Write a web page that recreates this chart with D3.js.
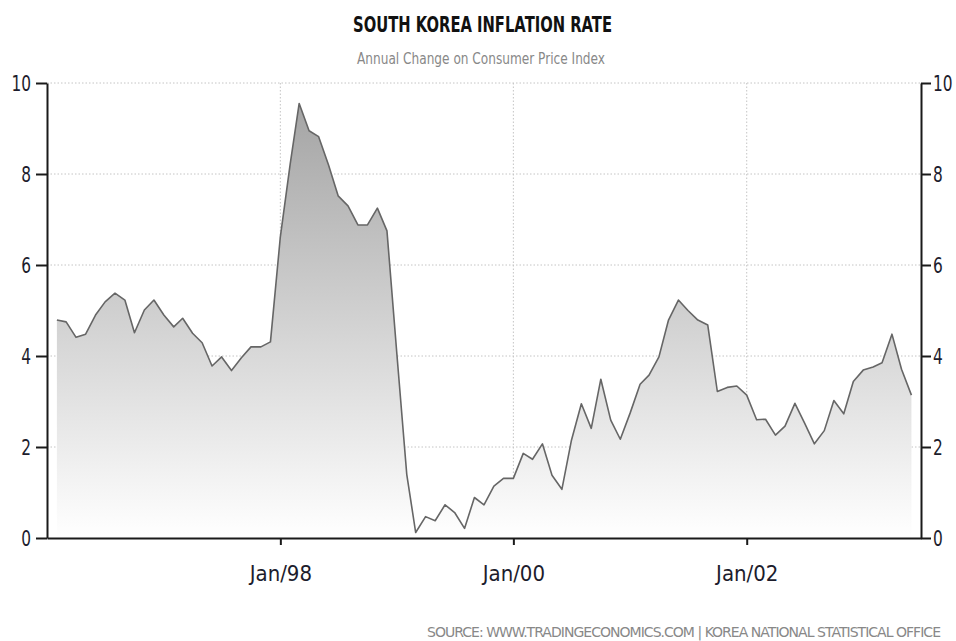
<!DOCTYPE html>
<html lang="en">
<head>
<meta charset="UTF-8">
<title>South Korea Inflation Rate</title>
<style>
  body { margin: 0; background: #fff; }
  .lbl { font-family: "DejaVu Sans", sans-serif; }
</style>
</head>
<body>
<svg id="chart" width="956" height="641"></svg>
<script src="https://d3js.org/d3.v7.min.js"></script>
<script>
// monthly CPI change, Jan 1996 .. May 2003
var firstMonth = new Date(1996, 0, 1)
var cpi1996 = [4.79, 4.75, 4.41, 4.48, 4.90, 5.19, 5.38, 5.23, 4.51, 5.01, 5.23, 4.90]
var cpi1997 = [4.64, 4.83, 4.50, 4.29, 3.78, 3.98, 3.68, 3.96, 4.20, 4.20, 4.31, 6.62]
var cpi1998 = [8.23, 9.55, 8.95, 8.82, 8.20, 7.52, 7.30, 6.88, 6.88, 7.25, 6.75, 4.05]
var cpi1999 = [1.40, 0.12, 0.47, 0.38, 0.73, 0.56, 0.21, 0.89, 0.73, 1.14, 1.31, 1.31]
var cpi2000 = [1.86, 1.73, 2.07, 1.38, 1.07, 2.15, 2.95, 2.41, 3.49, 2.59, 2.17, 2.75]
var cpi2001 = [3.38, 3.58, 3.98, 4.79, 5.23, 5.00, 4.79, 4.68, 3.22, 3.31, 3.34, 3.14]
var cpi2002 = [2.60, 2.61, 2.26, 2.46, 2.96, 2.53, 2.07, 2.36, 3.02, 2.73, 3.44, 3.69]
var cpi2003 = [3.76, 3.85, 4.48, 3.71, 3.14]

var yTicks = [0, 2, 4, 6, 8, 10]
var xTicks = ["1998-01", "2000-01", "2002-01"]

var values = [].concat(cpi1996, cpi1997, cpi1998, cpi1999, cpi2000, cpi2001, cpi2002, cpi2003)
// tradingeconomics plots each month at its end
var data = values.map(function(v, i) {
    return { date: d3.timeMonth.offset(firstMonth, i + 1), value: v }
})

var svg = d3.select("#chart")

var x = d3.scaleTime()
    .domain([new Date(1996, 0, 1), new Date(2003, 6, 1)])
    .range([47, 921])
var y = d3.scaleLinear()
    .domain([0, 10])
    .range([538, 83])

var tickDates = xTicks.map(d3.timeParse("%Y-%m"))

// gradient for the area
var grad = svg.append("defs").append("linearGradient")
    .attr("id", "fade")
    .attr("gradientUnits", "userSpaceOnUse")
    .attr("x1", 0).attr("x2", 0)
    .attr("y1", y(10)).attr("y2", y(0))
grad.append("stop").attr("offset", "0%").attr("stop-color", "#a0a0a0")
grad.append("stop").attr("offset", "100%").attr("stop-color", "#ffffff")

// dotted grid
svg.append("g").selectAll("line.h")
    .data(yTicks.filter(function(d) { return d > 0 }))
    .enter().append("line")
    .attr("x1", 47).attr("x2", 921)
    .attr("y1", function(d) { return y(d) })
    .attr("y2", function(d) { return y(d) })
    .style("stroke", "#c4c4c4")
    .style("stroke-dasharray", "1.5,2")
svg.append("g").selectAll("line.v")
    .data(tickDates)
    .enter().append("line")
    .attr("x1", function(d) { return x(d) })
    .attr("x2", function(d) { return x(d) })
    .attr("y1", y(10)).attr("y2", y(0))
    .style("stroke", "#c4c4c4")
    .style("stroke-dasharray", "1.5,2")

var area = d3.area()
    .x(function(d) { return x(d.date) })
    .y0(y(0))
    .y1(function(d) { return y(d.value) })
var line = d3.line()
    .x(function(d) { return x(d.date) })
    .y(function(d) { return y(d.value) })

svg.append("path")
    .datum(data)
    .attr("d", area)
    .style("fill", "url(#fade)")
svg.append("path")
    .datum(data)
    .attr("d", line)
    .style("fill", "none")
    .style("stroke", "#666")
    .style("stroke-width", 1.6)
    .style("stroke-linejoin", "round")

// axes
var leftAxis = svg.append("g")
    .attr("transform", "translate(47,0)")
    .call(d3.axisLeft(y).tickValues(yTicks).tickSize(11).tickSizeOuter(0))
var rightAxis = svg.append("g")
    .attr("transform", "translate(921,0)")
    .call(d3.axisRight(y).tickValues(yTicks).tickSize(10).tickSizeOuter(0))
var bottomAxis = svg.append("g")
    .attr("transform", "translate(0,538)")
    .call(d3.axisBottom(x).tickValues(tickDates).tickFormat(d3.timeFormat("%b/%y"))
        .tickSize(7).tickSizeOuter(0).tickPadding(20))

svg.selectAll(".domain, .tick line")
    .style("stroke", "#1a1a1a")
    .style("stroke-width", 2)
svg.selectAll(".tick text")
    .attr("class", "lbl")
    .style("font-size", "22px")
    .style("fill", "#1c1c2c")

// the original font is much narrower, squeeze the labels
var sy = 0.7, sx = 0.9
leftAxis.selectAll(".tick text")
    .attr("x", -16 / sy)
    .attr("transform", "scale(" + sy + ",1)")
rightAxis.selectAll(".tick text")
    .attr("x", 12 / sy)
    .attr("transform", "scale(" + sy + ",1)")
bottomAxis.selectAll(".tick text")
    .attr("transform", "scale(" + sx + ",1)")

// titles
svg.append("text")
    .attr("class", "lbl")
    .attr("x", 353).attr("y", 32)
    .attr("textLength", 259)
    .attr("lengthAdjust", "spacingAndGlyphs")
    .style("font-size", "21px")
    .style("font-weight", "bold")
    .style("fill", "#111")
    .text("SOUTH KOREA INFLATION RATE")
svg.append("text")
    .attr("class", "lbl")
    .attr("x", 357).attr("y", 64)
    .attr("textLength", 248)
    .attr("lengthAdjust", "spacingAndGlyphs")
    .style("font-size", "16px")
    .style("fill", "#888")
    .text("Annual Change on Consumer Price Index")
svg.append("text")
    .attr("class", "lbl")
    .attr("x", 427).attr("y", 637)
    .attr("textLength", 514)
    .attr("lengthAdjust", "spacing")
    .style("font-size", "14px")
    .style("fill", "#888")
    .text("SOURCE:  WWW.TRADINGECONOMICS.COM  |  KOREA NATIONAL STATISTICAL OFFICE")
</script>
</body>
</html>
